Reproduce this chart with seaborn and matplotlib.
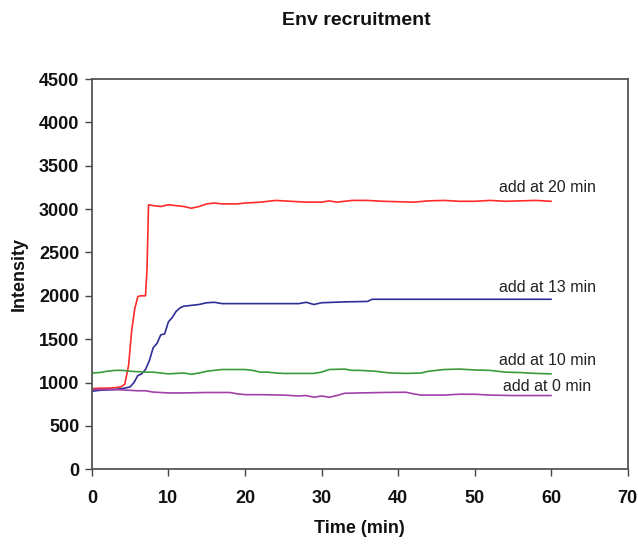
import matplotlib
matplotlib.use('Agg')
import pandas as pd
import seaborn as sns
from matplotlib import pyplot as plt

# values (time in min, intensity)
t_red = [0, 1, 2, 3, 3.8, 4.3, 4.8, 5.2, 5.6, 6.0, 6.3, 7.0, 7.2, 7.4, 8, 9, 10, 11, 12, 13, 14, 15,
         16, 17, 19, 20, 22, 24, 26, 28, 30, 31, 32, 34, 36, 38, 40, 42, 44, 46, 48, 50, 52, 54, 56, 58, 60]
v_red = [930, 935, 935, 940, 950, 980, 1200, 1600, 1850, 1990, 2000, 2000, 2300, 3050, 3040, 3030, 3050,
         3040, 3030, 3010, 3030, 3060, 3070, 3060, 3060, 3070, 3080, 3100, 3090, 3080, 3080, 3095, 3080,
         3100, 3100, 3090, 3085, 3080, 3095, 3100, 3090, 3090, 3100, 3090, 3095, 3100, 3090]

t_blue = [0, 1, 2, 3, 4, 5, 5.5, 6, 6.5, 7, 7.5, 8, 8.5, 9, 9.5, 10, 10.5, 11, 11.5, 12, 13, 14, 15, 16,
          17, 20, 25, 27, 28, 29, 30, 33, 36, 36.6, 40, 45, 50, 55, 60]
v_blue = [900, 910, 915, 920, 930, 950, 1000, 1080, 1100, 1150, 1250, 1400, 1450, 1550, 1560, 1700, 1750,
          1820, 1860, 1880, 1890, 1900, 1920, 1925, 1910, 1910, 1910, 1910, 1925, 1900, 1920, 1930, 1935,
          1960, 1960, 1960, 1960, 1960, 1960]

t_green = [0, 1, 2, 3, 4, 5, 6, 7, 8, 9, 10, 11, 12, 13, 14, 15, 16, 17, 18, 20, 21, 22, 23, 24, 25, 27,
           29, 30, 31, 33, 34, 35, 37, 39, 41, 43, 44, 46, 48, 50, 52, 54, 56, 58, 60]
v_green = [1110, 1115, 1130, 1140, 1140, 1130, 1125, 1120, 1120, 1110, 1100, 1105, 1110, 1095, 1110, 1130,
           1140, 1150, 1150, 1150, 1140, 1120, 1120, 1110, 1105, 1105, 1105, 1120, 1150, 1155, 1140, 1140,
           1130, 1110, 1105, 1110, 1130, 1150, 1155, 1145, 1140, 1120, 1115, 1105, 1100]

t_purple = [0, 2, 4, 6, 7, 8, 10, 12, 15, 18, 19, 20, 22, 25, 27, 28, 29, 30, 31, 32, 33, 35, 38, 41, 42,
            43, 46, 48, 50, 52, 55, 58, 60]
v_purple = [920, 920, 915, 905, 905, 890, 880, 880, 885, 885, 870, 860, 860, 855, 845, 850, 830, 845, 830,
            850, 876, 880, 885, 888, 870, 855, 855, 865, 865, 855, 850, 850, 850]

labels = ['add at 20 min', 'add at 13 min', 'add at 10 min', 'add at 0 min']
label_y = [3250, 2100, 1257, 957]

sns.set_style('white', {'xtick.bottom': True, 'ytick.left': True, 'text.color': '#111111',
                        'axes.labelcolor': '#111111', 'xtick.color': '#111111', 'ytick.color': '#111111'})
plt.rcParams['font.family'] = ['Liberation Sans', 'DejaVu Sans']

fig = plt.figure(figsize=(6.38, 5.45), dpi=100)
ax = fig.add_axes([0.144, 0.139, 0.840, 0.716])

series = [(t_red, v_red, '#ff2a2a'), (t_blue, v_blue, '#2e2e96'),
          (t_green, v_green, '#3a9a3a'), (t_purple, v_purple, '#a040a8')]
for t, v, c in series:
    sns.lineplot(x=t, y=v, color=c, linewidth=1.2, ax=ax)

for lab, y in zip(labels, label_y):
    ax.text(59.5, y, lab, fontsize=11.5, ha='center', va='center', color='#222222')

ax.set_xlim(0, 70)
ax.set_ylim(0, 4500)
ax.set_xticks(range(0, 71, 10))
ax.set_yticks(range(0, 4501, 500))
for sp in ax.spines.values():
    sp.set_color('#555555')
    sp.set_linewidth(1.3)
ax.tick_params(axis='both', direction='out', length=5, width=1, color='#444444', labelsize=13)
ax.tick_params(axis='x', pad=10)
ax.tick_params(axis='y', pad=4)
for lbl in ax.get_xticklabels() + ax.get_yticklabels():
    lbl.set_fontweight('bold')
ax.set_xlabel('Time (min)', fontsize=13, fontweight='bold', labelpad=9)
ax.set_ylabel('Intensity', fontsize=13, fontweight='bold', labelpad=8)

fig.text(0.558, 0.962, 'Env recruitment', fontsize=14, fontweight='bold', ha='center', va='center')

fig.savefig('out.png', dpi=100)
plt.close()
